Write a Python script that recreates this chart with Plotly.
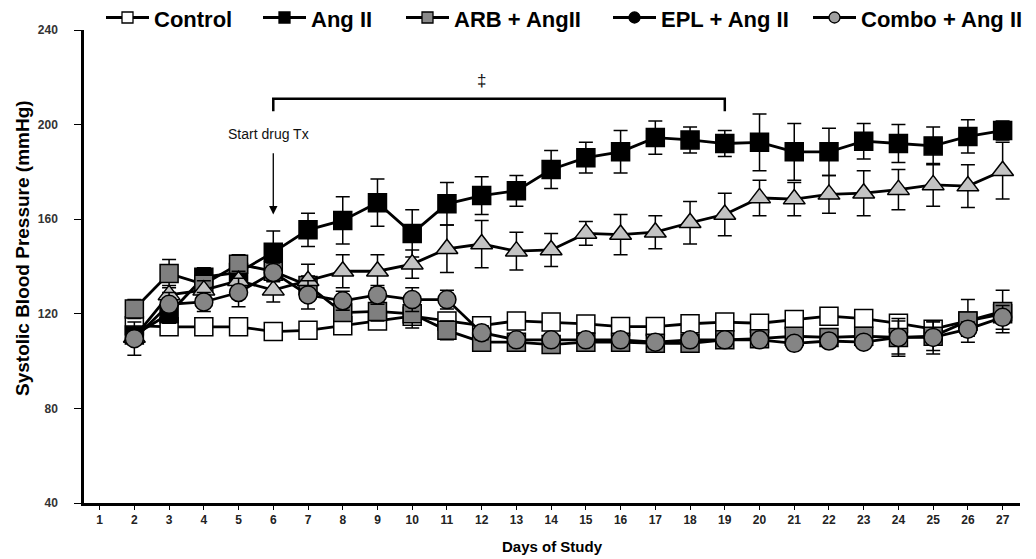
import plotly.graph_objects as go

days = list(range(2, 28))
tick_days = list(range(1, 28))

control = [115, 114.5, 114.5, 114.5, 112.5, 113, 115, 117, 119, 117, 115, 117, 116.5, 115.7,
           114.6, 114.6, 115.8, 116.5, 116, 117.6, 119, 118, 116, 113.5, 117, 120]
control_err = [2, 2, 2, 2, 2, 2, 2, 3, 3, 2, 2, 2, 2, 2, 2, 2, 2, 2, 2, 2, 2, 2, 2, 3, 2, 2]

angii = [111, 120, 135.5, 137.5, 146, 155.5, 159.5, 167, 154, 166.5, 170, 172, 181, 186,
         188.5, 194.5, 193.5, 192, 192.5, 188.5, 188.5, 193, 192, 191, 195, 197.5]
angii_err = [3, 4, 4, 4, 9, 7, 10, 10, 10, 9, 8, 6.5, 8, 6.5, 9, 7, 5.5, 5.5, 12, 12, 10,
             7.5, 8, 8, 7, 4]

arb = [122, 137, 132.5, 141, 138, 132, 120.5, 121, 120, 113, 108, 108, 107, 108, 108, 107.5,
       107.5, 109, 109.5, 110.5, 110, 110.5, 110, 110.5, 117, 121]
arb_err = [4, 6, 4, 4, 4, 4, 3, 4, 6, 4, 3, 2, 2, 2, 2, 2, 2, 2, 2, 2, 3, 3, 8, 6, 9, 9]

epl = [110, 128, 130, 134, 130, 134, 138, 138, 141, 147.5, 149.5, 146.5, 147, 154, 153.5,
       154.5, 158.5, 162, 169, 168.5, 170.5, 171, 172.5, 174.5, 174, 180.5]
epl_err = [3, 4, 4, 4, 5, 7, 7, 7, 6, 10, 10, 8, 7, 5, 8.5, 7, 9, 9, 7.5, 7, 8, 9.5, 8.5,
           9, 9, 12]

combo = [109.5, 124, 125, 129, 137.5, 128, 125.5, 128, 126, 126, 112, 109, 109, 109, 109,
         108, 109, 109, 109, 107.5, 108.5, 108, 110, 110, 113.5, 118.5]
combo_err = [7, 5, 4, 6, 4, 6, 4, 4, 5, 4, 3, 2, 2, 2, 2, 2, 2, 2, 2, 2, 2, 2, 7, 7, 3, 5]

legend_names = ["Control", "Ang II", "ARB + AngII", "EPL + Ang II", "Combo + Ang II"]
y_ticks = [40, 80, 120, 160, 200, 240]

FONT = "Arial, Liberation Sans, sans-serif"
LINE_W = 2.8

W, H = 1036, 559
ML, MR, MT, MB = 84, 16, 30, 56
PW, PH = W - ML - MR, H - MT - MB


def px2x(px):
    return (px - ML) / PW


def px2y(py):
    return (H - MB - py) / PH


fig = go.Figure()

series = [
    (control, control_err, "square", "#ffffff", 18),
    (angii, angii_err, "square", "#000000", 18),
    (arb, arb_err, "square", "#7f7f7f", 18),
    (epl, epl_err, "triangle-up", "#c3c3c3", 19),
    (combo, combo_err, "circle", "#858585", 18),
]

for name, (vals, errs, sym, col, size) in zip(legend_names, series):
    fig.add_trace(go.Scatter(
        x=days, y=vals, mode="lines+markers", name=name, showlegend=False,
        line=dict(color="black", width=LINE_W),
        marker=dict(symbol=sym, size=size, color=col, line=dict(color="black", width=1.5)),
        error_y=dict(type="data", array=errs, visible=True, color="black",
                     thickness=1.5, width=7),
        cliponaxis=False,
    ))

# ---- manual legend (single row above the plot, like the reference) ----
legend_style = [
    ("rect", "#ffffff"),
    ("rect", "#000000"),
    ("rect", "#8a8a8a"),
    ("circle", "#000000"),
    ("circle", "#a0a0a0"),
]
legend_line_start = [106, 263, 406, 613, 813]
LEG_LINE_LEN = 43
LEG_Y = 17.5
MK = 5.5
for name, (shape, col), x0 in zip(legend_names, legend_style, legend_line_start):
    fig.add_shape(type="line", xref="paper", yref="paper",
                  x0=px2x(x0), x1=px2x(x0 + LEG_LINE_LEN), y0=px2y(LEG_Y), y1=px2y(LEG_Y),
                  line=dict(color="black", width=3.2))
    cx = x0 + LEG_LINE_LEN / 2
    fig.add_shape(type=shape, xref="paper", yref="paper",
                  x0=px2x(cx - MK), x1=px2x(cx + MK), y0=px2y(LEG_Y - MK), y1=px2y(LEG_Y + MK),
                  fillcolor=col, line=dict(color="black", width=1.3))
    fig.add_annotation(x=px2x(x0 + LEG_LINE_LEN + 3), y=px2y(19.5), xref="paper", yref="paper",
                       xanchor="left", yanchor="middle", text="<b>%s</b>" % name,
                       showarrow=False, font=dict(family=FONT, size=22, color="black"))

# bracket
fig.add_shape(type="path", xref="x", yref="y",
              path="M 6,205.6 L 6,210.9 L 19,210.9 L 19,205.6",
              line=dict(color="black", width=2.5))

fig.add_annotation(x=6, y=162, ax=6, ay=188.5, xref="x", yref="y", axref="x", ayref="y",
                   text="", showarrow=True, arrowhead=2, arrowsize=1.3, arrowwidth=1.3,
                   arrowcolor="black")
fig.add_annotation(x=6, y=196.2, xref="x", yref="y", text="Start drug Tx", showarrow=False,
                   xshift=-5, font=dict(family=FONT, size=14, color="#111"))
fig.add_annotation(x=12.0, y=218.5, xref="x", yref="y", text="‡", showarrow=False,
                   font=dict(family=FONT, size=17, color="#111"))
fig.add_annotation(x=27.85, y=198, xref="x", yref="y", text="*", showarrow=False,
                   font=dict(family=FONT, size=17, color="#222"))
# y-axis title
fig.add_annotation(x=px2x(22), y=px2y(248), xref="paper", yref="paper", textangle=-90,
                   xanchor="center", yanchor="middle",
                   text="<b>Systolic Blood Pressure (mmHg)</b>", showarrow=False,
                   font=dict(family=FONT, size=19, color="black"))

fig.update_layout(
    width=W, height=H,
    margin=dict(l=ML, r=MR, t=MT, b=MB, autoexpand=False),
    paper_bgcolor="white", plot_bgcolor="white",
    font=dict(family=FONT, color="black"),
    showlegend=False,
    xaxis=dict(range=[0.55, 27.5], tickmode="array", tickvals=tick_days,
               ticktext=["<b>%d</b>" % d for d in tick_days],
               showline=True, linecolor="black", linewidth=2.5, mirror=False,
               ticks="outside", ticklen=4, tickwidth=1.2, tickcolor="black",
               showgrid=False, zeroline=False,
               tickfont=dict(family=FONT, size=12, color="#222"),
               title=dict(text="<b>Days of Study</b>", font=dict(family=FONT, size=15),
                          standoff=16)),
    yaxis=dict(range=[40, 240], tickmode="array", tickvals=y_ticks,
               ticktext=["<b>%d</b>" % v for v in y_ticks],
               showline=True, linecolor="black", linewidth=2.5,
               ticks="outside", ticklen=7, tickwidth=1.2, tickcolor="black",
               showgrid=False, zeroline=False, ticklabelstandoff=14,
               tickfont=dict(family=FONT, size=12, color="#333")),
)

fig.write_html("out.html")
